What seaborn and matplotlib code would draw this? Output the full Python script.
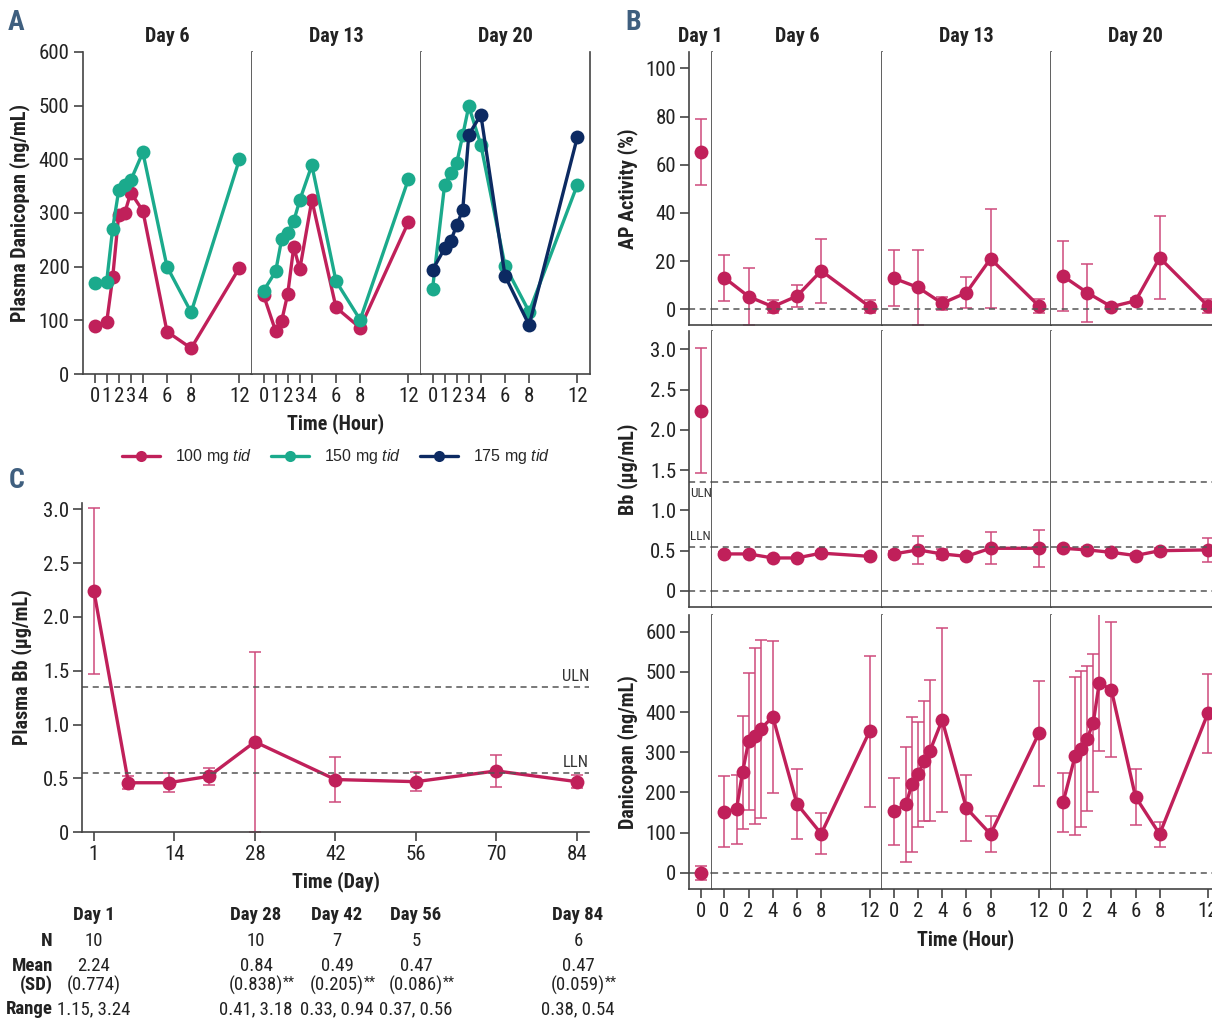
import matplotlib
matplotlib.use("Agg")
import matplotlib.pyplot as plt
import seaborn as sns
import pandas as pd
from matplotlib import font_manager
from matplotlib.lines import Line2D

# -----------------------------------------------------
# DATA
# -----------------------------------------------------
# Panel A: plasma danicopan per dose (ng/mL)
pk_hours = [0, 1, 1.5, 2, 2.5, 3, 4, 6, 8, 12]
pk_100_d6 = [90, 96, 180, 297, 300, 338, 304, 79, 48, 198]
pk_150_d6 = [170, 172, 271, 342, 352, 361, 413, 200, 115, 400]
pk_100_d13 = [147, 80, 99, 149, 237, 195, 324, 124, 86, 283]
pk_150_d13 = [155, 191, 251, 263, 285, 324, 389, 173, 101, 363]
pk_150_d20 = [159, 353, 374, 393, 445, 499, 427, 202, 116, 353]
pk_175_d20 = [194, 234, 248, 277, 306, 446, 483, 183, 91, 442]
dose_labels = ["100 mg $\\mathit{tid}$", "150 mg $\\mathit{tid}$", "175 mg $\\mathit{tid}$"]

# Panel B: AP activity (%), mean and SD
ap_hours = [0, 2, 4, 6, 8, 12]
ap_day1, ap_day1_sd = 65.3, 13.8
ap_d6 = [13.1, 5.3, 1.1, 5.5, 16.0, 1.1]
ap_d6_sd = [9.6, 11.7, 2.8, 4.6, 13.3, 2.6]
ap_d13 = [12.9, 9.1, 2.5, 6.9, 21.0, 1.4]
ap_d13_sd = [11.7, 15.5, 2.8, 6.4, 20.5, 3.0]
ap_d20 = [13.8, 6.9, 1.1, 3.5, 21.4, 1.4]
ap_d20_sd = [14.6, 12.0, 1.0, 1.0, 17.3, 2.9]

# Panel B: Bb (ug/mL)
bb_day1, bb_day1_sd = 2.24, 0.774
bb_d6 = [0.46, 0.46, 0.41, 0.41, 0.47, 0.43]
bb_d6_sd = [0.03, 0.03, 0.03, 0.03, 0.03, 0.03]
bb_d13 = [0.46, 0.51, 0.46, 0.43, 0.53, 0.53]
bb_d13_sd = [0.04, 0.17, 0.06, 0.03, 0.20, 0.23]
bb_d20 = [0.53, 0.51, 0.48, 0.44, 0.50, 0.51]
bb_d20_sd = [0.03, 0.03, 0.03, 0.03, 0.03, 0.145]
ULN, LLN = 1.35, 0.55

# Panel B: danicopan (ng/mL)
dan_day1, dan_day1_sd = 0, 17
dan_d6 = [152, 158, 250, 327, 340, 358, 388, 171, 97, 352]
dan_d6_sd = [89, 86, 140, 171, 219, 222, 190, 86, 51, 188]
dan_d13 = [153, 170, 220, 245, 278, 304, 380, 161, 96, 347]
dan_d13_sd = [83, 143, 168, 130, 150, 175, 230, 82, 44, 130]
dan_d20 = [175, 291, 308, 334, 373, 473, 455, 189, 96, 397]
dan_d20_sd = [74, 197, 194, 181, 172, 170, 168, 70, 31, 98]

# Panel C: plasma Bb over study days (position 0 = Day 1)
c_pos = [0, 6, 13, 20, 28, 42, 56, 70, 84]
c_mean = [2.24, 0.46, 0.46, 0.52, 0.84, 0.49, 0.47, 0.57, 0.47]
c_sd = [0.774, 0.06, 0.09, 0.08, 0.838, 0.205, 0.086, 0.145, 0.059]
c_tick_pos = [0, 14, 28, 42, 56, 70, 84]
c_tick_lab = ["1", "14", "28", "42", "56", "70", "84"]

# Panel C summary table
tab_days = ["Day 1", "Day 28", "Day 42", "Day 56", "Day 84"]
tab_n = ["10", "10", "7", "5", "6"]
tab_mean = ["2.24", "0.84", "0.49", "0.47", "0.47"]
tab_sd = ["(0.774)", "(0.838)", "(0.205)", "(0.086)", "(0.059)"]
tab_sig = ["", "**", "**", "**", "**"]
tab_range = ["1.15, 3.24", "0.41, 3.18", "0.33, 0.94", "0.37, 0.56", "0.38, 0.54"]

# -----------------------------------------------------
# STYLE
# -----------------------------------------------------
RED = "#C0205A"
TEAL = "#1BAA8C"
NAVY = "#0C2A62"
ERR = "#CE4A7C"
LETTER = "#3F5F7F"
DASH = (0, (4, 3))

sns.set_theme(style="ticks")
installed = {f.name for f in font_manager.fontManager.ttflist}
NARROW = next((f for f in ["Liberation Sans Narrow", "DejaVu Sans Condensed",
                           "Roboto Condensed", "Liberation Sans"] if f in installed), "DejaVu Sans")
plt.rcParams["font.family"] = [NARROW, "DejaVu Sans"]
plt.rcParams.update({
    "axes.edgecolor": "#444444",
    "axes.linewidth": 1.2,
    "xtick.color": "#444444",
    "ytick.color": "#444444",
    "xtick.labelcolor": "#222222",
    "ytick.labelcolor": "#222222",
    "xtick.labelsize": 15,
    "ytick.labelsize": 15,
    "xtick.major.size": 6.3,
    "ytick.major.size": 6.3,
    "xtick.major.width": 1.2,
    "ytick.major.width": 1.2,
    "xtick.major.pad": 3,
    "ytick.major.pad": 3,
    "mathtext.fontset": "custom",
    "mathtext.rm": "Liberation Sans",
    "mathtext.it": "Liberation Sans:italic",
    "axes.facecolor": "white",
})

W, H = 1212, 1021
fig = plt.figure(figsize=(W / 100, H / 100), dpi=100)


def px_rect(x0, y0, x1, y1):
    return [x0 / W, 1 - y1 / H, (x1 - x0) / W, (y1 - y0) / H]


def ftext(x, y, s, **kw):
    kw.setdefault("ha", "center")
    kw.setdefault("va", "center")
    kw.setdefault("color", "#222222")
    return fig.text(x / W, 1 - y / H, s, **kw)


def style_facet(ax, first, last_visible=True):
    ax.spines["top"].set_visible(False)
    ax.spines["left"].set_visible(first)
    ax.spines["right"].set_visible(last_visible)
    if not first:
        ax.tick_params(axis="y", left=False, labelleft=False)
    ax.set_xlabel("")
    ax.set_ylabel("")


LW = 2.4
MS = 10

# -----------------------------------------------------
# PANEL A
# -----------------------------------------------------
a_edges = [82.5, 251.5, 420.5, 589.5]
a_facets = [
    ("Day 6", {"100": pk_100_d6, "150": pk_150_d6}),
    ("Day 13", {"100": pk_100_d13, "150": pk_150_d13}),
    ("Day 20", {"150": pk_150_d20, "175": pk_175_d20}),
]
a_pal = {"100": RED, "150": TEAL, "175": NAVY}
for i, (title, series) in enumerate(a_facets):
    ax = fig.add_axes(px_rect(a_edges[i], 52, a_edges[i + 1], 374))
    rows = []
    for dose, vals in series.items():
        for h, v in zip(pk_hours, vals):
            rows.append([dose, h, v])
    df = pd.DataFrame(rows, columns=["dose", "hour", "conc"])
    sns.lineplot(data=df, x="hour", y="conc", hue="dose", palette=a_pal,
                 marker="o", markersize=MS, markeredgewidth=0, linewidth=LW,
                 errorbar=None, legend=False, ax=ax)
    ax.set_xlim(-1, 13)
    ax.set_ylim(0, 600)
    ax.set_xticks([0, 1, 2, 3, 4, 6, 8, 12])
    ax.set_xticklabels(["0", "1", "2", "3", "4", "6", "8", "12"])
    ax.set_yticks(range(0, 601, 100))
    style_facet(ax, i == 0)
    ftext((a_edges[i] + a_edges[i + 1]) / 2, 37, title, fontsize=14.5, fontweight="bold")

ftext(20, 213, "Plasma Danicopan (ng/mL)", rotation=90, fontsize=14.5, fontweight="bold")
ftext(336, 424, "Time (Hour)", fontsize=14.5, fontweight="bold")

handles = [Line2D([], [], color=c, marker="o", markersize=8, markeredgewidth=0, linewidth=LW)
           for c in (RED, TEAL, NAVY)]
fig.legend(handles, dose_labels, loc="center", bbox_to_anchor=(336 / W, 1 - 457 / H),
           ncol=3, frameon=False, handlelength=2.4, columnspacing=1.2, handletextpad=0.9,
           prop={"family": "Liberation Sans", "size": 11.5})

# -----------------------------------------------------
# PANEL C
# -----------------------------------------------------
axc = fig.add_axes(px_rect(82, 502.7, 589, 832.3))
axc.errorbar(c_pos, c_mean, yerr=c_sd, fmt="none", ecolor=ERR, elinewidth=1.1,
             capsize=4.5, capthick=1.1)
sns.lineplot(x=c_pos, y=c_mean, color=RED, marker="o", markersize=MS,
             markeredgewidth=0, linewidth=LW, errorbar=None, ax=axc)
for lvl, lab in ((ULN, "ULN"), (LLN, "LLN")):
    axc.axhline(lvl, color="#555555", lw=1.1, ls=DASH)
    axc.text(86.1, lvl + 0.03, lab, ha="right", va="bottom", fontsize=12, color="#333333")
axc.set_xlim(-2.07, 86.1)
axc.set_ylim(0, 3.06)
axc.set_xticks(c_tick_pos)
axc.set_xticklabels(c_tick_lab)
axc.set_yticks([0, 0.5, 1.0, 1.5, 2.0, 2.5, 3.0])
axc.set_yticklabels(["0", "0.5", "1.0", "1.5", "2.0", "2.5", "3.0"])
for s in ("top", "right"):
    axc.spines[s].set_visible(False)
ftext(22, 667, "Plasma Bb (\u00b5g/mL)", rotation=90, fontsize=14.5, fontweight="bold")
ftext(336, 882, "Time (Day)", fontsize=14.5, fontweight="bold")

# summary table
tab_x = [94, 256, 337, 416, 578]
row_lab_x = 53
ftext(row_lab_x, 941, "N", ha="right", fontsize=13.5, fontweight="bold")
ftext(row_lab_x, 966, "Mean", ha="right", fontsize=13.5, fontweight="bold")
ftext(row_lab_x, 985, "(SD)", ha="right", fontsize=13.5, fontweight="bold")
ftext(row_lab_x, 1009, "Range", ha="right", fontsize=13.5, fontweight="bold")
for x, d, n, m, sd, sig, rg in zip(tab_x, tab_days, tab_n, tab_mean, tab_sd, tab_sig, tab_range):
    ftext(x, 915, d, fontsize=13.5, fontweight="bold")
    ftext(x, 941, n, fontsize=13.5)
    ftext(x, 966, m, fontsize=13.5)
    t = ftext(x, 985, sd, fontsize=13.5)
    if sig:
        axc.annotate(sig, xy=(1, 0.62), xycoords=t, ha="left", va="center",
                     fontsize=10, color="#222222", annotation_clip=False)
    ftext(x, 1009, rg, fontsize=13.5)

# -----------------------------------------------------
# PANEL B
# -----------------------------------------------------
b_edges = [689, 712.3, 881.7, 1051, 1220]
b_rows = [
    ((51.7, 325), (-6.5, 106.9), range(0, 101, 20), None,
     (ap_day1, ap_day1_sd), [(ap_d6, ap_d6_sd), (ap_d13, ap_d13_sd), (ap_d20, ap_d20_sd)],
     ap_hours, "AP Activity (%)"),
    ((331, 606.7), (-0.195, 3.227), [0, 0.5, 1.0, 1.5, 2.0, 2.5, 3.0],
     ["0", "0.5", "1.0", "1.5", "2.0", "2.5", "3.0"],
     (bb_day1, bb_day1_sd), [(bb_d6, bb_d6_sd), (bb_d13, bb_d13_sd), (bb_d20, bb_d20_sd)],
     ap_hours, "Bb (\u00b5g/mL)"),
    ((615, 888.7), (-39.8, 641.5), range(0, 601, 100), None,
     (dan_day1, dan_day1_sd), [(dan_d6, dan_d6_sd), (dan_d13, dan_d13_sd), (dan_d20, dan_d20_sd)],
     pk_hours, "Danicopan (ng/mL)"),
]
b_titles = ["Day 1", "Day 6", "Day 13", "Day 20"]
for r, (ypx, ylim, yt, ytl, day1, facets, hrs, ylab) in enumerate(b_rows):
    last_row = r == len(b_rows) - 1
    for j in range(4):
        ax = fig.add_axes(px_rect(b_edges[j], ypx[0], b_edges[j + 1], ypx[1]))
        if j == 0:
            m, sd = day1
            ax.errorbar([0], [m], yerr=[sd], fmt="none", ecolor=ERR, elinewidth=1.1,
                        capsize=4.5, capthick=1.1)
            sns.scatterplot(x=[0], y=[m], color=RED, s=MS ** 2, linewidth=0, ax=ax, zorder=3)
            ax.set_xlim(-0.965, 0.965)
            ax.set_xticks([0])
        else:
            vals, sds = facets[j - 1]
            ax.errorbar(hrs, vals, yerr=sds, fmt="none", ecolor=ERR, elinewidth=1.1,
                        capsize=4.5, capthick=1.1)
            sns.lineplot(x=hrs, y=vals, color=RED, marker="o", markersize=MS,
                         markeredgewidth=0, linewidth=LW, errorbar=None, ax=ax)
            ax.set_xlim(-1, 13)
            ax.set_xticks([0, 2, 4, 6, 8, 12])
        ax.axhline(0, color="#555555", lw=1.1, ls=DASH)
        if r == 1:
            ax.axhline(ULN, color="#555555", lw=1.1, ls=DASH)
            ax.axhline(LLN, color="#555555", lw=1.1, ls=DASH)
            if j == 0:
                ax.text(0, ULN - 0.06, "ULN", ha="center", va="top", fontsize=9.5, color="#333333")
                ax.text(0, LLN + 0.05, "LLN", ha="center", va="bottom", fontsize=9.5, color="#333333")
        ax.set_ylim(*ylim)
        ax.set_yticks(list(yt))
        if ytl:
            ax.set_yticklabels(ytl)
        style_facet(ax, j == 0, j < 3)
        if not last_row:
            ax.tick_params(axis="x", bottom=False, labelbottom=False)
        if r == 0:
            cx = (b_edges[j] + b_edges[j + 1]) / 2 if j < 3 else 1135
            ftext(cx, 37, b_titles[j], fontsize=14.5, fontweight="bold")
    ftext(628, (ypx[0] + ypx[1]) / 2, ylab, rotation=90, fontsize=14.5, fontweight="bold")

ftext(966, 940, "Time (Hour)", fontsize=14.5, fontweight="bold")

# panel letters
ftext(16, 23, "A", fontsize=20, fontweight="bold", color=LETTER)
ftext(633, 23, "B", fontsize=20, fontweight="bold", color=LETTER)
ftext(17, 480, "C", fontsize=20, fontweight="bold", color=LETTER)

fig.savefig("out.png", dpi=100)
